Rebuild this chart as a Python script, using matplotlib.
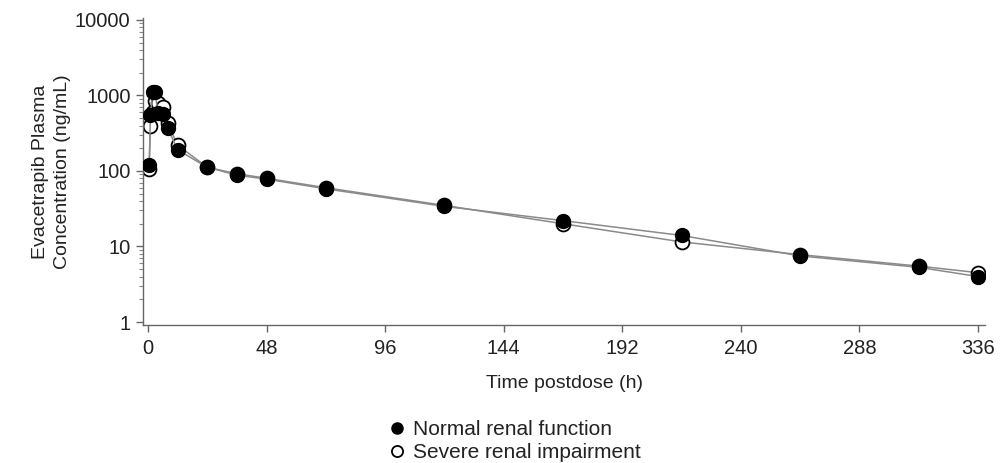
import matplotlib
matplotlib.use("Agg")
import matplotlib.pyplot as plt
from matplotlib.ticker import FixedLocator, LogLocator, NullFormatter, FixedFormatter

plt.rcParams['font.family'] = ['Liberation Sans', 'DejaVu Sans']

time_h = [0.5, 1, 2, 3, 4, 6, 8, 12, 24, 36, 48, 72, 120, 168, 216, 264, 312, 336]
normal = [120, 550, 1100, 1100, 580, 560, 370, 190, 112, 88, 78, 58, 34, 22, 14, 7.5, 5.3, 4.0]
severe = [105, 390, 600, 850, 800, 700, 430, 220, 112, 92, 80, 60, 35, 20, 11.5, 7.8, 5.5, 4.5]

x_ticks = [0, 48, 96, 144, 192, 240, 288, 336]
y_ticks = [1, 10, 100, 1000, 10000]
y_tick_labels = ['1', '10', '100', '1000', '10000']

W, H = 1005, 463
fig = plt.figure(figsize=(W / 100, H / 100), dpi=100)
ax = fig.add_axes([143 / W, 1 - 325 / H, (985 - 143) / W, (325 - 18) / H])

line_col = '#8a8a8a'
ax.plot(time_h, severe, color=line_col, lw=1.1, marker='o', ms=10,
        mfc='white', mec='black', mew=1.3, zorder=2, label='Severe renal impairment')
ax.plot(time_h, normal, color=line_col, lw=1.1, marker='o', ms=10,
        mfc='black', mec='black', mew=1.0, zorder=3, label='Normal renal function')

ax.set_yscale('log')
ax.set_xlim(-2, 338.8)
ax.set_ylim(0.913, 10610)

ax.xaxis.set_major_locator(FixedLocator(x_ticks))
ax.yaxis.set_major_locator(FixedLocator(y_ticks))
ax.yaxis.set_major_formatter(FixedFormatter(y_tick_labels))
ax.yaxis.set_minor_locator(LogLocator(base=10, subs=range(2, 10)))
ax.yaxis.set_minor_formatter(NullFormatter())

for s in ['top', 'right']:
    ax.spines[s].set_visible(False)
for s in ['left', 'bottom']:
    ax.spines[s].set_color('#666666')
    ax.spines[s].set_linewidth(1.0)

ax.tick_params(axis='both', which='major', direction='out', length=5, width=1,
               color='#666666', labelsize=14.5, labelcolor='#222222')
ax.tick_params(axis='y', which='minor', direction='out', length=3, width=0.8, color='#888888')
ax.tick_params(axis='x', pad=5)
ax.tick_params(axis='y', pad=4)

ax.set_xlabel('Time postdose (h)', fontsize=14, labelpad=12, color='#222222')
ax.set_ylabel('Evacetrapib Plasma\nConcentration (ng/mL)', fontsize=14, labelpad=3,
              linespacing=1.35, color='#222222')

handles, labels = ax.get_legend_handles_labels()
order = [1, 0]
leg = fig.legend([handles[i] for i in order], [labels[i] for i in order],
                 loc='center left', bbox_to_anchor=(378 / W, 1 - 441 / H),
                 frameon=False, fontsize=15, handlelength=0.8, handletextpad=0.4,
                 labelspacing=0.2, borderpad=0, markerscale=0.8)
for h in leg.legend_handles:
    h.set_linestyle('None')
for t in leg.get_texts():
    t.set_color('#222222')

fig.savefig('out.png', dpi=100)
